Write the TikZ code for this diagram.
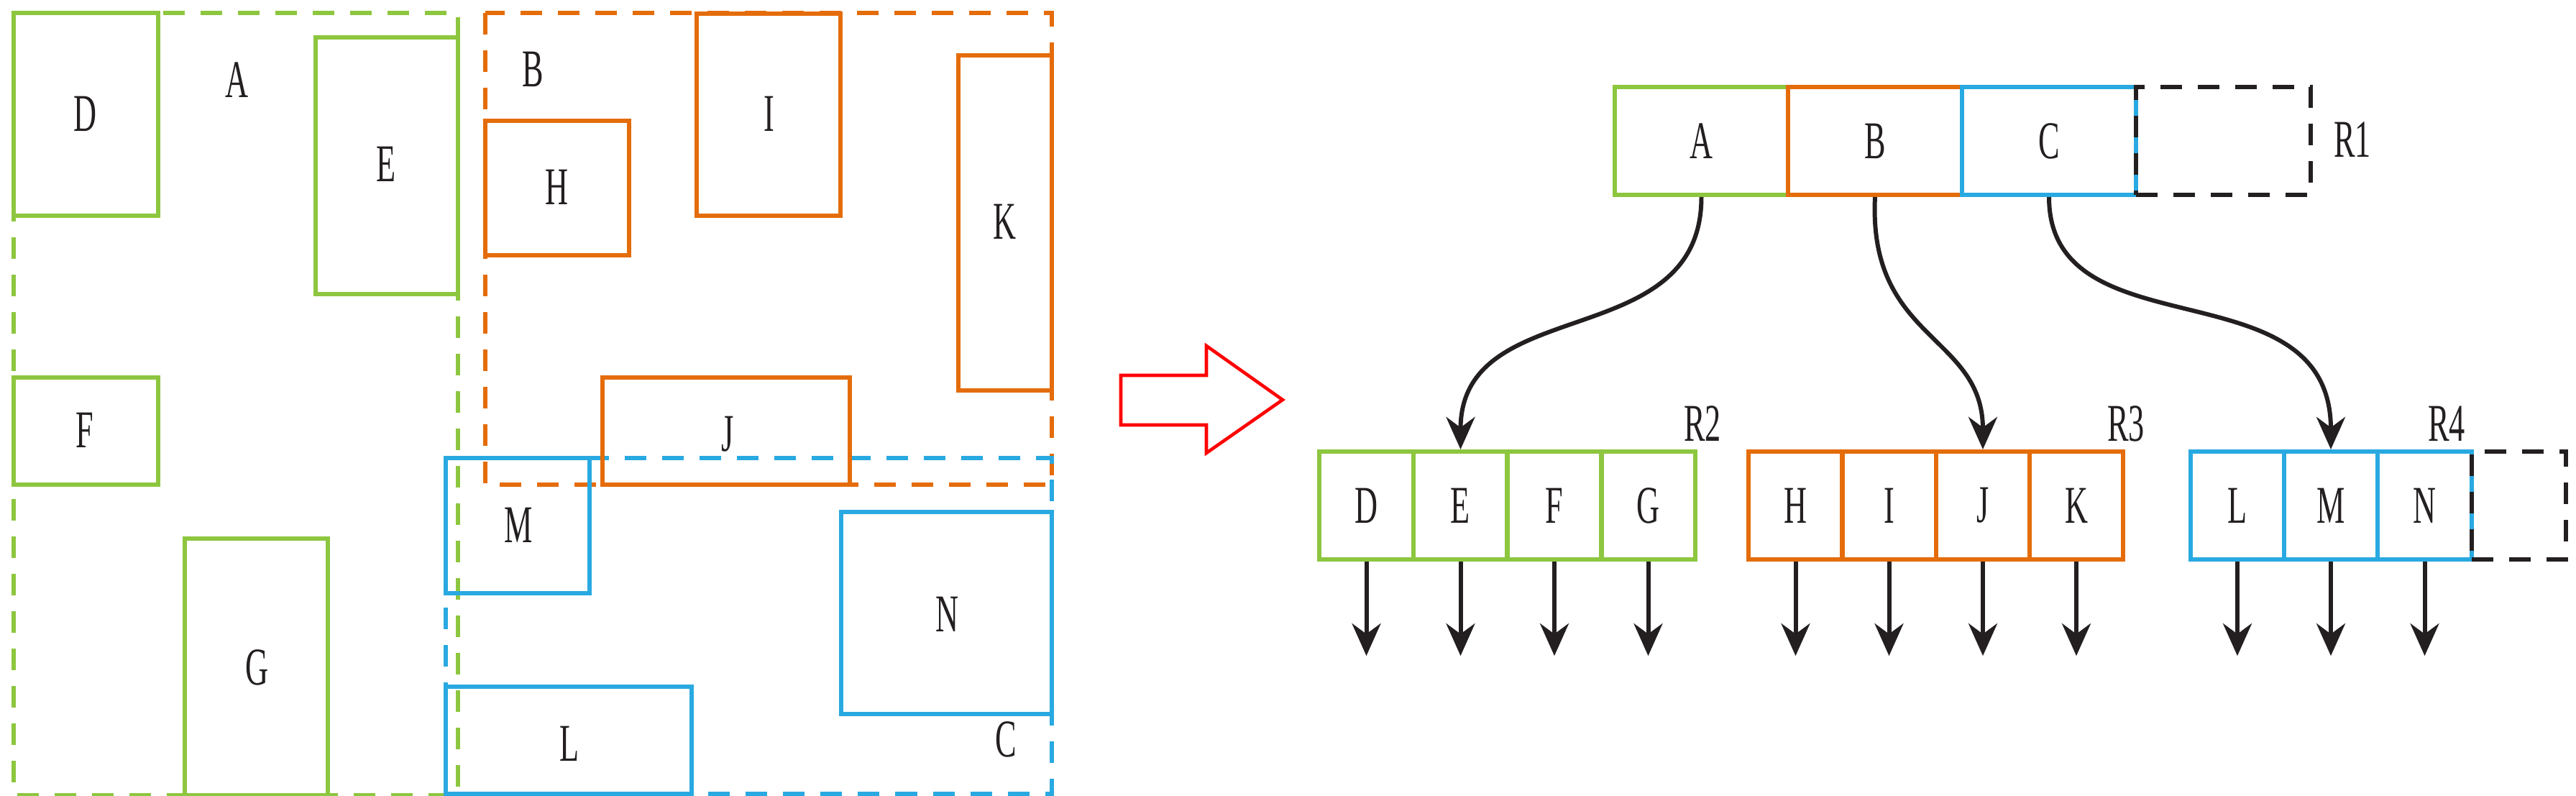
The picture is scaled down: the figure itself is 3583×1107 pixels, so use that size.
\documentclass[tikz,border=0pt]{standalone}
\usepackage{fontspec}
\newfontfamily\nar{Liberation Serif}[FakeStretch=0.6]
\usetikzlibrary{arrows.meta}
\definecolor{cg}{HTML}{8DC63F}
\definecolor{co}{HTML}{E46C0A}
\definecolor{cb}{HTML}{29A9E1}
\definecolor{ck}{HTML}{231F20}
\begin{document}
\begin{tikzpicture}[x=0.01cm,y=-0.01cm,line width=1.7pt,
  lab/.style={font=\nar\fontsize{21}{24}\selectfont,text=ck,inner sep=0},
  dsh/.style={dash pattern=on 0.3cm off 0.22cm},
  cell/.style={inner sep=0,minimum height=1.50cm,font=\nar\fontsize{21}{24}\selectfont,text=ck},
  ptr/.style={ck,-{Stealth[length=0.45cm,width=0.4cm]}},
]
\useasboundingbox (0,0) rectangle (3583,1107);
\begin{scope}[yscale=0.738]
% left panel: dashed groups
\draw[cg,dsh] (19,24) rectangle (637,1498);
\draw[co,dsh] (675,24) rectangle (1463,913);
\draw[cb,dsh] (620,863) rectangle (1463,1496);
% green
\draw[cg] (19,24) rectangle (220,406);   \node[lab] (lD) at (118,215) {D};
\draw[cg] (439,70) rectangle (637,554);  \node[lab] (lE) at (537,310) {E};
\draw[cg] (19,711) rectangle (220,913);  \node[lab] (lF) at (118,811) {F};
\draw[cg] (257,1015) rectangle (456,1498); \node[lab] (lG) at (357,1258) {G};
\node[lab] (lA) at (329,150) {A};
% orange
\draw[co] (675,227) rectangle (875,481);  \node[lab] (lH) at (774,353) {H};
\draw[co] (969,26) rectangle (1169,406);  \node[lab] (lI) at (1070,215) {I};
\draw[co] (1333,105) rectangle (1463,736); \node[lab] (lK) at (1397,418) {K};
\draw[co] (838,711) rectangle (1182,913); \node[lab] (lJ) at (1012,818) {J};
\node[lab] (lB) at (741,131) {B};
% blue
\draw[cb] (620,863) rectangle (820,1118); \node[lab] (lM) at (721,989) {M};
\draw[cb] (1170,965) rectangle (1463,1345); \node[lab] (lN) at (1317,1157) {N};
\draw[cb] (620,1294) rectangle (962,1496); \node[lab] (lL) at (792,1402) {L};
\node[lab] (lC) at (1399,1394) {C};
\end{scope}
% hollow red arrow
\draw[red,line width=1.3pt,line join=miter] (1559,522) -- (1678,522) -- (1678,481) -- (1784,556) -- (1678,630) -- (1678,591) -- (1559,591) -- cycle;
% R1
\node[cell,draw=cg,minimum width=2.41cm] (A) at (2366.5,196) {A};
\node[cell,draw=co,minimum width=2.42cm] (B) at (2608,196) {B};
\node[cell,draw=cb,minimum width=2.42cm] (C) at (2850,196) {C};
\node[cell,draw=ck,dsh,minimum width=2.43cm] (R1e) at (3092.5,196) {};
\node[lab] (R1) at (3272,194) {R1};
% R2
\foreach \n/\x in {D/1900.5,E/2031.5,F/2162,G/2292.5}
  \node[cell,draw=cg,minimum width=1.31cm] (\n) at (\x,703) {\n};
\node[lab] (R2) at (2368,589) {R2};
% R3
\foreach \n/\x in {H/2497.5,I/2627.5,J/2758,K/2888}
  \node[cell,draw=co,minimum width=1.30cm] (\n) at (\x,703) {\n};
\node[lab] (R3) at (2957,589) {R3};
% R4
\foreach \n/\x in {L/3112,M/3242,N/3372.5}
  \node[cell,draw=cb,minimum width=1.30cm] (\n) at (\x,703) {\n};
\node[cell,draw=ck,dsh,minimum width=1.31cm] (R4e) at (3503.5,703) {};
\node[lab] (R4) at (3403,589) {R4};
% down pointers
\foreach \n in {D,E,F,G,H,I,J,K,L,M,N}{
  \coordinate (\n t) at ([yshift=-1.31cm]\n.south);
  \draw[ptr] (\n.south) -- (\n t);
}
% curved pointers
\draw[ptr] (A.south) .. controls +(0,220) and +(0,-220) .. (E.north);
\draw[ptr] (B.south) .. controls +(-10,200) and +(0,-160) .. (J.north);
\draw[ptr] (C.south) .. controls +(0,220) and +(0,-260) .. (M.north);
\end{tikzpicture}
\end{document}
